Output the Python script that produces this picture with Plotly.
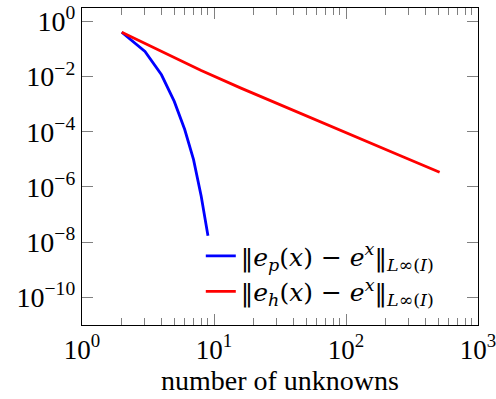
import plotly.graph_objects as go

# Data
n_p = [2, 3, 4, 5, 6, 7, 8, 9]
err_p = [0.40, 0.080, 0.0115, 1.25e-3, 1.2e-4, 9.7e-6, 4.6e-7, 1.7e-8]

n_h = [2, 4, 8, 16, 32, 64, 128, 256, 512]
err_h = [0.398, 0.0782, 0.01644, 3.78e-3, 9.14e-4, 2.25e-4, 5.56e-5, 1.37e-5, 3.38e-6]

x_major = [1, 10, 100, 1000]
x_major_text = ["10<sup>0</sup>", "10<sup>1</sup>", "10<sup>2</sup>", "10<sup>3</sup>"]
x_minor = [m * d for d in (1, 10, 100) for m in range(2, 10)]
y_major = [1e0, 1e-2, 1e-4, 1e-6, 1e-8, 1e-10]
y_major_text = ["10<sup>0</sup>", "10<sup>−2</sup>", "10<sup>−4</sup>",
                "10<sup>−6</sup>", "10<sup>−8</sup>", "10<sup>−10</sup>"]
x_title = "number of unknowns"

name_p = "‖<i>e</i><sub><i>p</i></sub>(<i>x</i>) − <i>e</i><sup><i>x</i></sup>‖<sub><i>L</i>∞(<i>I</i>)</sub>"
name_h = "‖<i>e</i><sub><i>h</i></sub>(<i>x</i>) − <i>e</i><sup><i>x</i></sup>‖<sub><i>L</i>∞(<i>I</i>)</sub>"

FONT = "Liberation Serif"

fig = go.Figure()
fig.add_trace(go.Scatter(x=n_p, y=err_p, mode="lines", name=name_p,
                         line=dict(color="#0000ff", width=2.8)))
fig.add_trace(go.Scatter(x=n_h, y=err_h, mode="lines", name=name_h,
                         line=dict(color="#ff0000", width=2.8)))

fig.update_layout(
    width=496, height=399,
    margin=dict(l=82, r=18, t=8, b=74, autoexpand=False),
    paper_bgcolor="white", plot_bgcolor="white",
    font=dict(family=FONT, size=27, color="black"),
    showlegend=True,
    legend=dict(x=0.30, y=0.29, xanchor="left", yanchor="top",
                bgcolor="rgba(0,0,0,0)", borderwidth=0,
                font=dict(family="DejaVu Serif", size=25)),
    annotations=[dict(text=x_title, xref="paper", yref="paper", x=0.5, y=-0.231,
                      xanchor="center", yanchor="bottom", showarrow=False,
                      font=dict(family=FONT, size=28, color="black"))],
)
fig.update_xaxes(
    type="log", range=[0, 3], automargin=False,
    tickvals=x_major, ticktext=x_major_text,
    ticks="inside", ticklen=11, tickwidth=1, tickcolor="#808080",
    ticklabeloverflow="allow",
    minor=dict(tickvals=x_minor, ticks="inside", ticklen=7, tickwidth=1,
               tickcolor="#808080", showgrid=False),
    showline=True, linecolor="black", linewidth=1.4, mirror="ticks",
    showgrid=False, zeroline=False,
)
fig.update_yaxes(
    type="log", range=[-11, 0.48], automargin=False,
    tickvals=y_major, ticktext=y_major_text,
    ticks="inside", ticklen=11, tickwidth=1, tickcolor="#808080",
    ticklabeloverflow="allow",
    tickfont=dict(size=28),
    showline=True, linecolor="black", linewidth=1.4, mirror="ticks",
    showgrid=False, zeroline=False,
)

fig.write_html("out.html")
